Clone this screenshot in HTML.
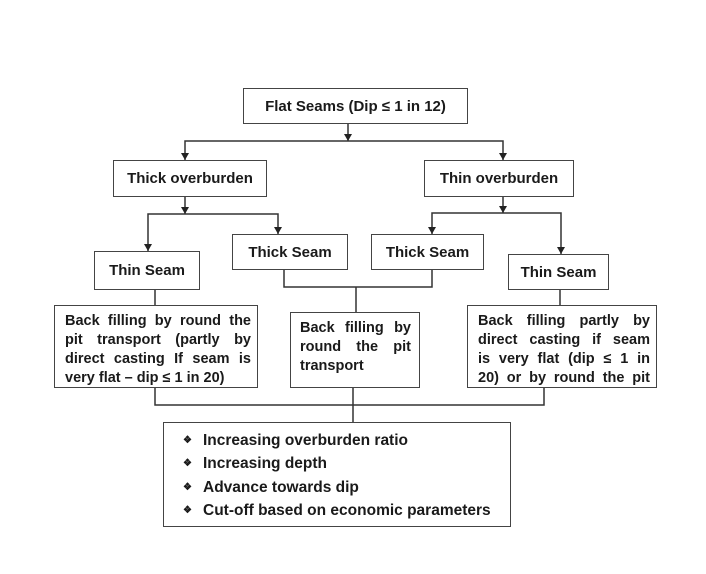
<!DOCTYPE html>
<html><head><meta charset="utf-8"><style>
html,body{margin:0;padding:0;background:#fff;}
body{width:706px;height:574px;position:relative;overflow:hidden;font-family:"Liberation Sans",Arial,sans-serif;font-weight:bold;color:#1a1a1a;}
.b{position:absolute;border:1.5px solid #444;box-sizing:border-box;background:#fff;font-size:15px;}
.c{display:flex;align-items:center;justify-content:center;}
.j{line-height:19px;padding:6px 8px 0 10px;font-size:14.5px;}
.j div{text-align:justify;text-align-last:justify;white-space:nowrap;}
.j div.l{text-align-last:left;}
svg{position:absolute;left:0;top:0;}
.li{position:absolute;font-size:15.5px;}
.li span{font-size:10px;display:inline-block;width:20px;vertical-align:2px;}
</style></head><body>
<svg width="706" height="574" stroke="#333" stroke-width="1.5" fill="none">
<line x1="348" y1="123" x2="348" y2="141"/>
<polyline points="185,160 185,141 503,141 503,160"/>
<line x1="185" y1="197" x2="185" y2="214"/>
<polyline points="148,251 148,214 278,214 278,234"/>
<line x1="503" y1="197" x2="503" y2="213"/>
<polyline points="432,234 432,213 561,213 561,254"/>
<polyline points="284,270 284,287 432,287 432,270"/>
<line x1="356" y1="287" x2="356" y2="312"/>
<line x1="155" y1="290" x2="155" y2="306"/>
<line x1="560" y1="290" x2="560" y2="306"/>
<polyline points="155,388 155,405 544,405 544,388"/>
<line x1="353" y1="388" x2="353" y2="422"/>
<g fill="#222" stroke="none">
<polygon points="344,134 352,134 348,141"/>
<polygon points="181,153 189,153 185,160"/>
<polygon points="499,153 507,153 503,160"/>
<polygon points="181,207 189,207 185,214"/>
<polygon points="499,206 507,206 503,213"/>
<polygon points="144,244 152,244 148,251"/>
<polygon points="274,227 282,227 278,234"/>
<polygon points="428,227 436,227 432,234"/>
<polygon points="557,247 565,247 561,254"/>
</g>
</svg>
<div class="b c" style="left:243px;top:88px;width:225px;height:36px;">Flat Seams (Dip ≤ 1 in 12)</div>
<div class="b c" style="left:113px;top:160px;width:154px;height:37px;">Thick overburden</div>
<div class="b c" style="left:424px;top:160px;width:150px;height:37px;">Thin overburden</div>
<div class="b c" style="left:94px;top:251px;width:106px;height:39px;">Thin Seam</div>
<div class="b c" style="left:232px;top:234px;width:116px;height:36px;">Thick Seam</div>
<div class="b c" style="left:371px;top:234px;width:113px;height:36px;">Thick Seam</div>
<div class="b c" style="left:508px;top:254px;width:101px;height:36px;">Thin Seam</div>
<div class="b j" style="left:54px;top:305px;width:204px;height:83px;padding-right:6px;">
<div>Back filling by round the</div><div>pit transport (partly by</div><div>direct casting If seam is</div><div class="l">very flat – dip ≤ 1 in 20)</div></div>
<div class="b j" style="left:290px;top:312px;width:130px;height:76px;padding-left:9px;">
<div>Back filling by</div><div>round the pit</div><div class="l">transport</div></div>
<div class="b j" style="left:467px;top:305px;width:190px;height:83px;padding-right:6px;">
<div>Back filling partly by</div><div>direct casting if seam</div><div>is very flat (dip ≤ 1 in</div><div>20) or by round the pit</div></div>
<div class="b" style="left:163px;top:422px;width:348px;height:105px;"></div>
<div class="li" style="left:183px;top:432px;"><span>❖</span>Increasing overburden ratio</div>
<div class="li" style="left:183px;top:455px;"><span>❖</span>Increasing depth</div>
<div class="li" style="left:183px;top:479px;"><span>❖</span>Advance towards dip</div>
<div class="li" style="left:183px;top:502px;"><span>❖</span>Cut-off based on economic parameters</div>
</body></html>
